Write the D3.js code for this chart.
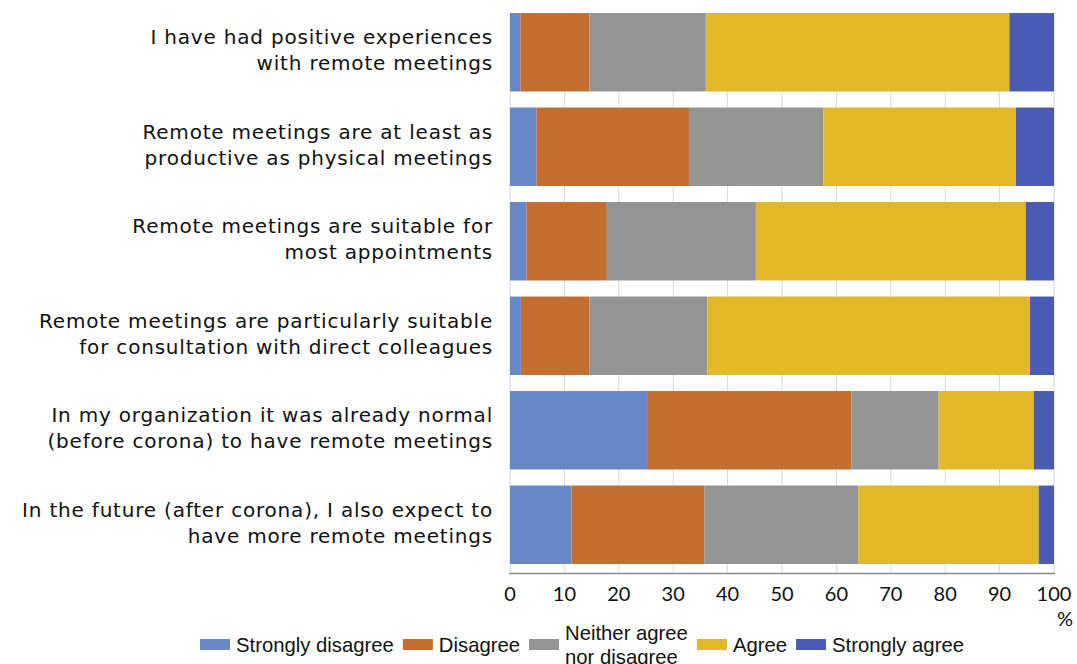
<!DOCTYPE html>
<style>
body { margin: 0; background: #fff; }
.cat { font-family: "DejaVu Sans", sans-serif; font-size: 20px; letter-spacing: 0.8px; fill: #111; }
.tick-label { font-family: Lato, sans-serif; font-size: 20px; fill: #111; }
.legend text { font-family: "Liberation Sans", Arial, sans-serif; font-size: 20.3px; fill: #111; }
</style>
<svg id="chart" width="1077" height="664"></svg>
<script src="https://d3js.org/d3.v7.min.js"></script>
<script>

// statements, split in two lines as in the original
var categories = [
  ["I have had positive experiences", "with remote meetings"],
  ["Remote meetings are at least as", "productive as physical meetings"],
  ["Remote meetings are suitable for", "most appointments"],
  ["Remote meetings are particularly suitable", "for consultation with direct colleagues"],
  ["In my organization it was already normal", "(before corona) to have remote meetings"],
  ["In the future (after corona), I also expect to", "have more remote meetings"]
];

var seriesNames = ["Strongly disagree", "Disagree", "Neither agree nor disagree", "Agree", "Strongly agree"];
var seriesColors = ["#6787c8", "#c46d31", "#949494", "#e3b828", "#4a5bb4"];

// percentages per statement
var stronglyDisagree = [1.9, 4.9, 3.0, 2.0, 25.2, 11.3];
var disagree         = [12.7, 28.0, 14.8, 12.6, 37.6, 24.4];
var neither          = [21.4, 24.7, 27.4, 21.7, 16.0, 28.3];
var agree            = [55.8, 35.4, 49.6, 59.3, 17.5, 33.2];
var stronglyAgree    = [8.2, 7.0, 5.2, 4.4, 3.7, 2.8];

var xTicks = [0, 10, 20, 30, 40, 50, 60, 70, 80, 90, 100];

var seriesValues = [stronglyDisagree, disagree, neither, agree, stronglyAgree];
var rows = categories.map(function(c, i) {
  var r = {idx: i};
  seriesNames.forEach(function(s, k) { r[s] = seriesValues[k][i]; });
  return r;
});

var svg = d3.select("#chart");

var x = d3.scaleLinear().domain([0, 100]).range([510, 1054]);
var y = d3.scaleBand()
    .domain(d3.range(categories.length))
    .range([5, 572])
    .paddingInner(0.17)
    .paddingOuter(0.085);
var color = d3.scaleOrdinal().domain(seriesNames).range(seriesColors);

// grid
svg.append("g")
  .selectAll("line")
  .data(xTicks)
  .enter().append("line")
    .attr("x1", function(d) { return x(d); })
    .attr("x2", function(d) { return x(d); })
    .attr("y1", y.range()[0] + 8)
    .attr("y2", 573)
    .attr("stroke", "#d9d9d9")
    .attr("stroke-width", 1);

var stack = d3.stack().keys(seriesNames);

svg.append("g")
  .selectAll("g")
  .data(stack(rows))
  .enter().append("g")
    .attr("fill", function(d) { return color(d.key); })
  .selectAll("rect")
  .data(function(d) { return d; })
  .enter().append("rect")
    .attr("x", function(d) { return x(d[0]); })
    .attr("y", function(d) { return y(d.data.idx); })
    .attr("width", function(d) { return x(d[1]) - x(d[0]); })
    .attr("height", y.bandwidth());

// axis line + labels
svg.append("line")
    .attr("x1", x(0) - 1).attr("x2", x(100) + 1)
    .attr("y1", 573.5).attr("y2", 573.5)
    .attr("stroke", "#8c8c8c")
    .attr("stroke-width", 1.5);

svg.append("g")
  .selectAll("text")
  .data(xTicks)
  .enter().append("text")
    .attr("class", "tick-label")
    .attr("x", function(d) { return x(d); })
    .attr("y", 601)
    .attr("text-anchor", "middle")
    .text(function(d) { return d; });

svg.append("text")
    .attr("class", "tick-label")
    .attr("x", 1073)
    .attr("y", 626)
    .attr("text-anchor", "end")
    .text("%");

// category labels
var cat = svg.append("g")
  .selectAll("text")
  .data(categories)
  .enter().append("text")
    .attr("class", "cat")
    .attr("text-anchor", "end")
    .attr("x", 493)
    .attr("y", function(d, i) { return y(i) + y.bandwidth() / 2 - 8; });

cat.append("tspan")
    .attr("x", 493)
    .text(function(d) { return d[0]; });
cat.append("tspan")
    .attr("x", 493)
    .attr("dy", 26)
    .text(function(d) { return d[1]; });

// legend, laid out left to right
var legend = svg.append("g").attr("class", "legend");
var lx = 200, ly = 645;
var legendLabels = [["Strongly disagree"], ["Disagree"], ["Neither agree", "nor disagree"], ["Agree"], ["Strongly agree"]];
legendLabels.forEach(function(lines, k) {
  legend.append("rect")
      .attr("x", lx)
      .attr("y", ly - 6)
      .attr("width", 30)
      .attr("height", 11)
      .attr("fill", seriesColors[k]);
  var t = legend.append("text")
      .attr("x", lx + 36)
      .attr("y", ly + 7 - (lines.length - 1) * 12);
  lines.forEach(function(l, j) {
    t.append("tspan")
        .attr("x", lx + 36)
        .attr("dy", j === 0 ? 0 : 24)
        .text(l);
  });
  lx += 36 + t.node().getBBox().width + 9;
});

</script>
